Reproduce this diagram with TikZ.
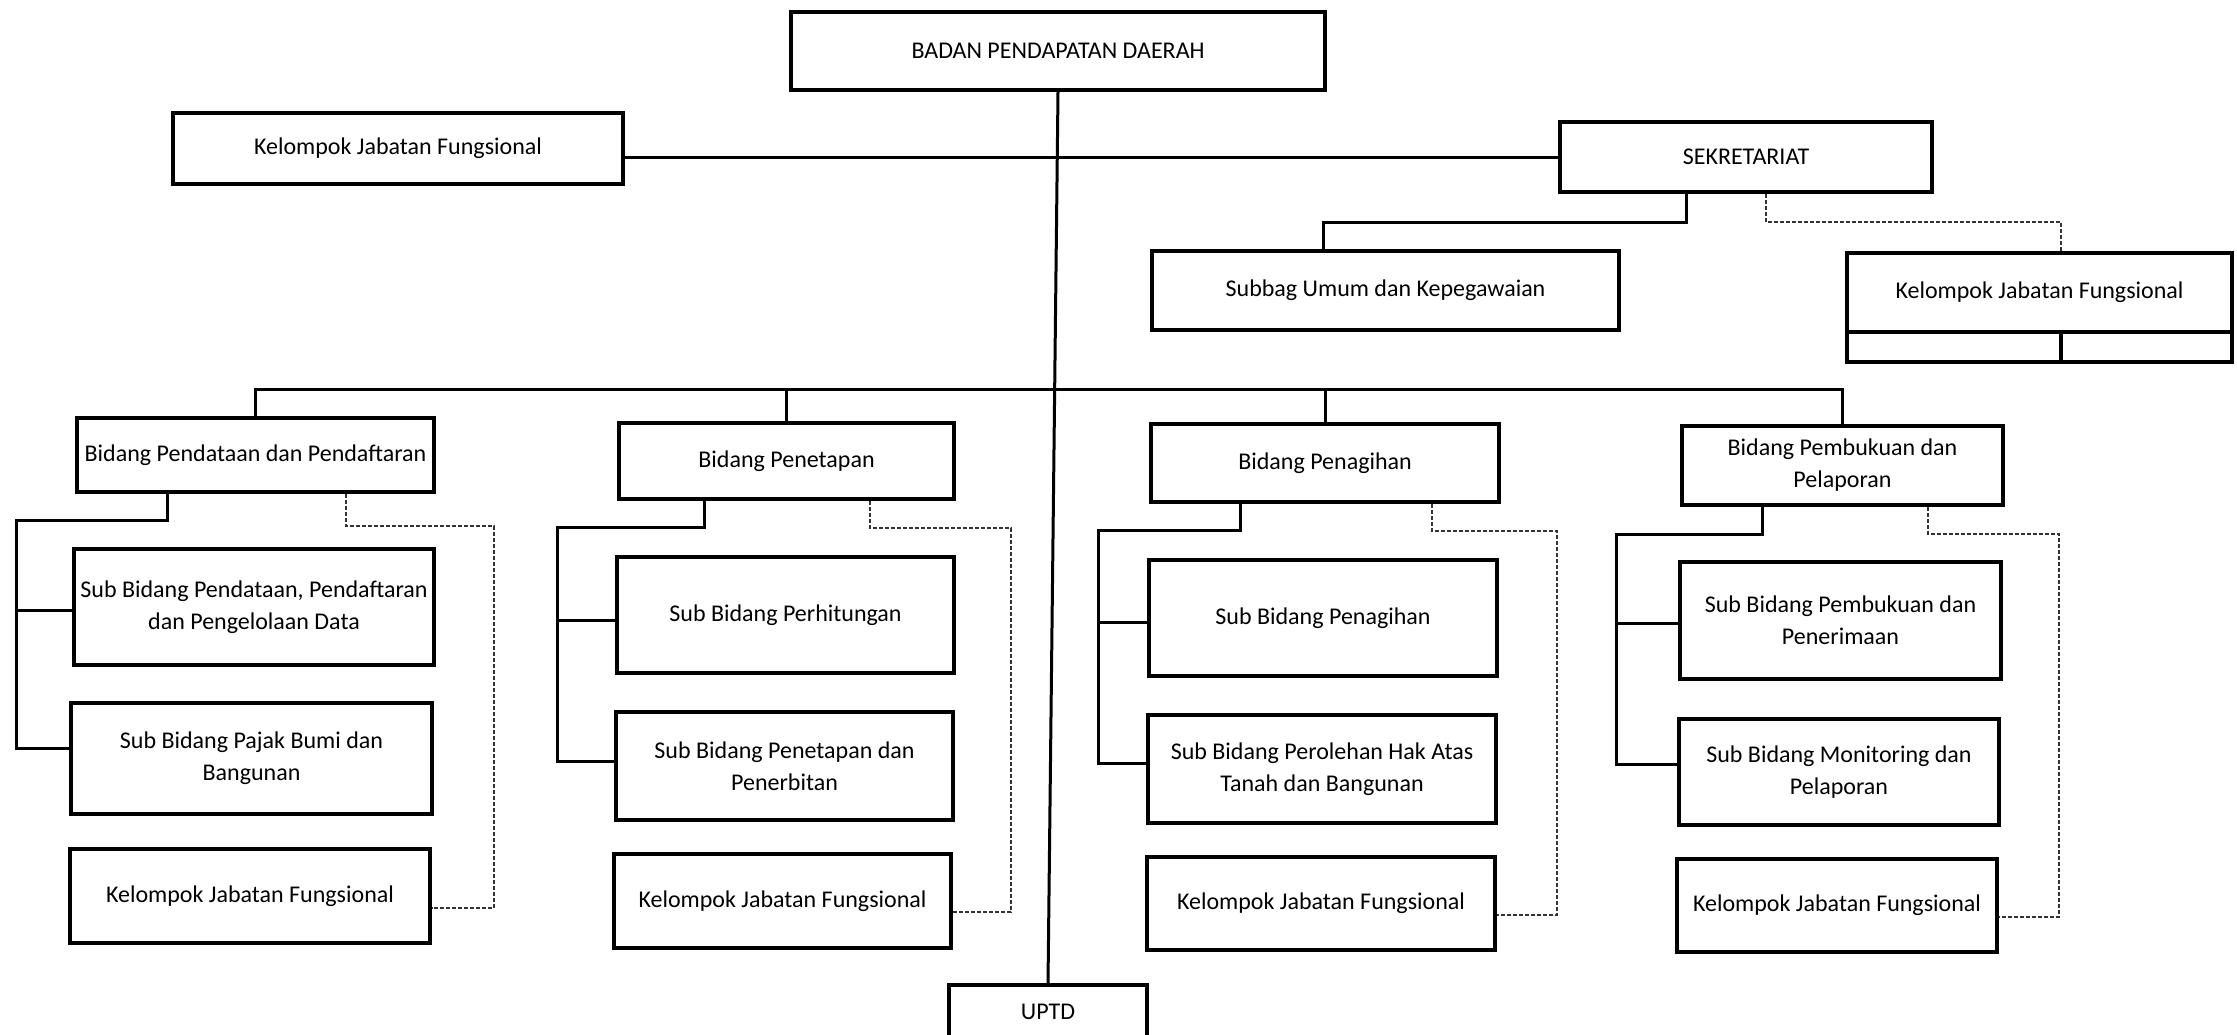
\documentclass[tikz,border=0pt]{standalone}
\usepackage{fontspec}
\setmainfont{Carlito}
% \ubox{name}{left}{top}{right}{bottom}{text}: a framed unit given by its corners
\newcommand\ubox[6]{%
  \node[unit, minimum width={(#4-#2)*0.5pt}, minimum height={(#5-#3)*0.5pt}]
    (#1) at ({(#2+#4)/2},{(#3+#5)/2}) {#6};}
\begin{document}
\begin{tikzpicture}[x=0.5pt,y=-0.5pt,
  unit/.style={draw=black, line width=1.6pt, inner sep=0pt, align=center,
    font=\fontsize{12}{16}\selectfont, text=black},
  link/.style={draw=black, line width=1.5pt},
  staff/.style={draw=black!80, line width=0.9pt, dash pattern=on 2pt off 1pt}]
\useasboundingbox (0,0) rectangle (2237,1034);

% top level
\ubox{badan}{791}{12}{1325}{90}{BADAN PENDAPATAN DAERAH}
\ubox{kjf0}{173}{113}{623}{184}{Kelompok Jabatan Fungsional}
\ubox{sek}{1560}{122}{1932}{192}{SEKRETARIAT}
\ubox{subbag}{1152}{251}{1619}{330}{Subbag Umum dan Kepegawaian}
\ubox{kjfs}{1847}{253}{2232}{332}{Kelompok Jabatan Fungsional}
\ubox{kjfsl}{1847}{332}{2061}{362}{}
\ubox{kjfsr}{2061}{332}{2232}{362}{}
\ubox{uptd}{949}{985}{1147}{1039}{UPTD}

% Bidang Pendataan dan Pendaftaran
\ubox{bid1}{77}{418}{434}{492}{Bidang Pendataan dan Pendaftaran}
\ubox{s11}{74}{549}{434}{665}{Sub Bidang Pendataan, Pendaftaran\\dan Pengelolaan Data}
\ubox{s12}{71}{703}{432}{814}{Sub Bidang Pajak Bumi dan\\Bangunan}
\ubox{k1}{70}{849}{430}{943}{Kelompok Jabatan Fungsional}

% Bidang Penetapan
\ubox{bid2}{619}{423}{954}{499}{Bidang Penetapan}
\ubox{s21}{617}{557}{954}{673}{Sub Bidang Perhitungan}
\ubox{s22}{616}{712}{953}{820}{Sub Bidang Penetapan dan\\Penerbitan}
\ubox{k2}{614}{854}{951}{948}{Kelompok Jabatan Fungsional}

% Bidang Penagihan
\ubox{bid3}{1151}{424}{1499}{502}{Bidang Penagihan}
\ubox{s31}{1149}{560}{1497}{676}{Sub Bidang Penagihan}
\ubox{s32}{1148}{715}{1496}{823}{Sub Bidang Perolehan Hak Atas\\Tanah dan Bangunan}
\ubox{k3}{1147}{857}{1495}{950}{Kelompok Jabatan Fungsional}

% Bidang Pembukuan dan Pelaporan
\ubox{bid4}{1682}{426}{2003}{505}{Bidang Pembukuan dan\\Pelaporan}
\ubox{s41}{1680}{562}{2001}{679}{Sub Bidang Pembukuan dan\\Penerimaan}
\ubox{s42}{1679}{719}{1999}{825}{Sub Bidang Monitoring dan\\Pelaporan}
\ubox{k4}{1677}{859}{1997}{952}{Kelompok Jabatan Fungsional}

% main line and staff line
\draw[link] (badan.south) -- (uptd.north);
\draw[link] (kjf0.east |- sek.west) -- (sek.west);

% secretariat branches
\coordinate (sa) at (1686,222);
\coordinate (sb) at (1323,222);
\draw[link] (sa |- sek.south) -- (sa) -- (sb) -- (sb |- subbag.north);
\coordinate (sc) at (1766,222);
\coordinate (sd) at (2061,222);
\draw[staff] (sc |- sek.south) -- (sc) -- (sd) -- (sd |- kjfs.north);

% bus to the four Bidang
\coordinate (bus) at (0,389);
\draw[link] (bid1.north) -- (bid1.north |- bus) -- (bid4.north |- bus) -- (bid4.north);
\draw[link] (bid2.north) -- (bid2.north |- bus);
\draw[link] (bid3.north) -- (bid3.north |- bus);

% column brackets: Bidang -> Sub Bidang
\coordinate (c1a) at (167,520); \coordinate (c1b) at (16,520);
\coordinate (c1c) at (16,610);  \coordinate (c1d) at (16,748);
\draw[link] (c1a |- bid1.south) -- (c1a) -- (c1b) -- (c1d) -- (c1d -| s12.west);
\draw[link] (c1c) -- (c1c -| s11.west);

\coordinate (c2a) at (704,527); \coordinate (c2b) at (557,527);
\coordinate (c2c) at (557,620); \coordinate (c2d) at (557,761);
\draw[link] (c2a |- bid2.south) -- (c2a) -- (c2b) -- (c2d) -- (c2d -| s22.west);
\draw[link] (c2c) -- (c2c -| s21.west);

\coordinate (c3a) at (1240,530); \coordinate (c3b) at (1098,530);
\coordinate (c3c) at (1098,622); \coordinate (c3d) at (1098,763);
\draw[link] (c3a |- bid3.south) -- (c3a) -- (c3b) -- (c3d) -- (c3d -| s32.west);
\draw[link] (c3c) -- (c3c -| s31.west);

\coordinate (c4a) at (1762,534); \coordinate (c4b) at (1616,534);
\coordinate (c4c) at (1616,623); \coordinate (c4d) at (1616,764);
\draw[link] (c4a |- bid4.south) -- (c4a) -- (c4b) -- (c4d) -- (c4d -| s42.west);
\draw[link] (c4c) -- (c4c -| s41.west);

% dashed lines: Bidang -> Kelompok Jabatan Fungsional
\coordinate (d1a) at (346,526); \coordinate (d1b) at (494,526); \coordinate (d1c) at (494,908);
\draw[staff] (d1a |- bid1.south) -- (d1a) -- (d1b) -- (d1c) -- (d1c -| k1.east);
\coordinate (d2a) at (870,528); \coordinate (d2b) at (1011,528); \coordinate (d2c) at (1011,912);
\draw[staff] (d2a |- bid2.south) -- (d2a) -- (d2b) -- (d2c) -- (d2c -| k2.east);
\coordinate (d3a) at (1432,531); \coordinate (d3b) at (1557,531); \coordinate (d3c) at (1557,915);
\draw[staff] (d3a |- bid3.south) -- (d3a) -- (d3b) -- (d3c) -- (d3c -| k3.east);
\coordinate (d4a) at (1928,534); \coordinate (d4b) at (2059,534); \coordinate (d4c) at (2059,917);
\draw[staff] (d4a |- bid4.south) -- (d4a) -- (d4b) -- (d4c) -- (d4c -| k4.east);
\end{tikzpicture}
\end{document}
